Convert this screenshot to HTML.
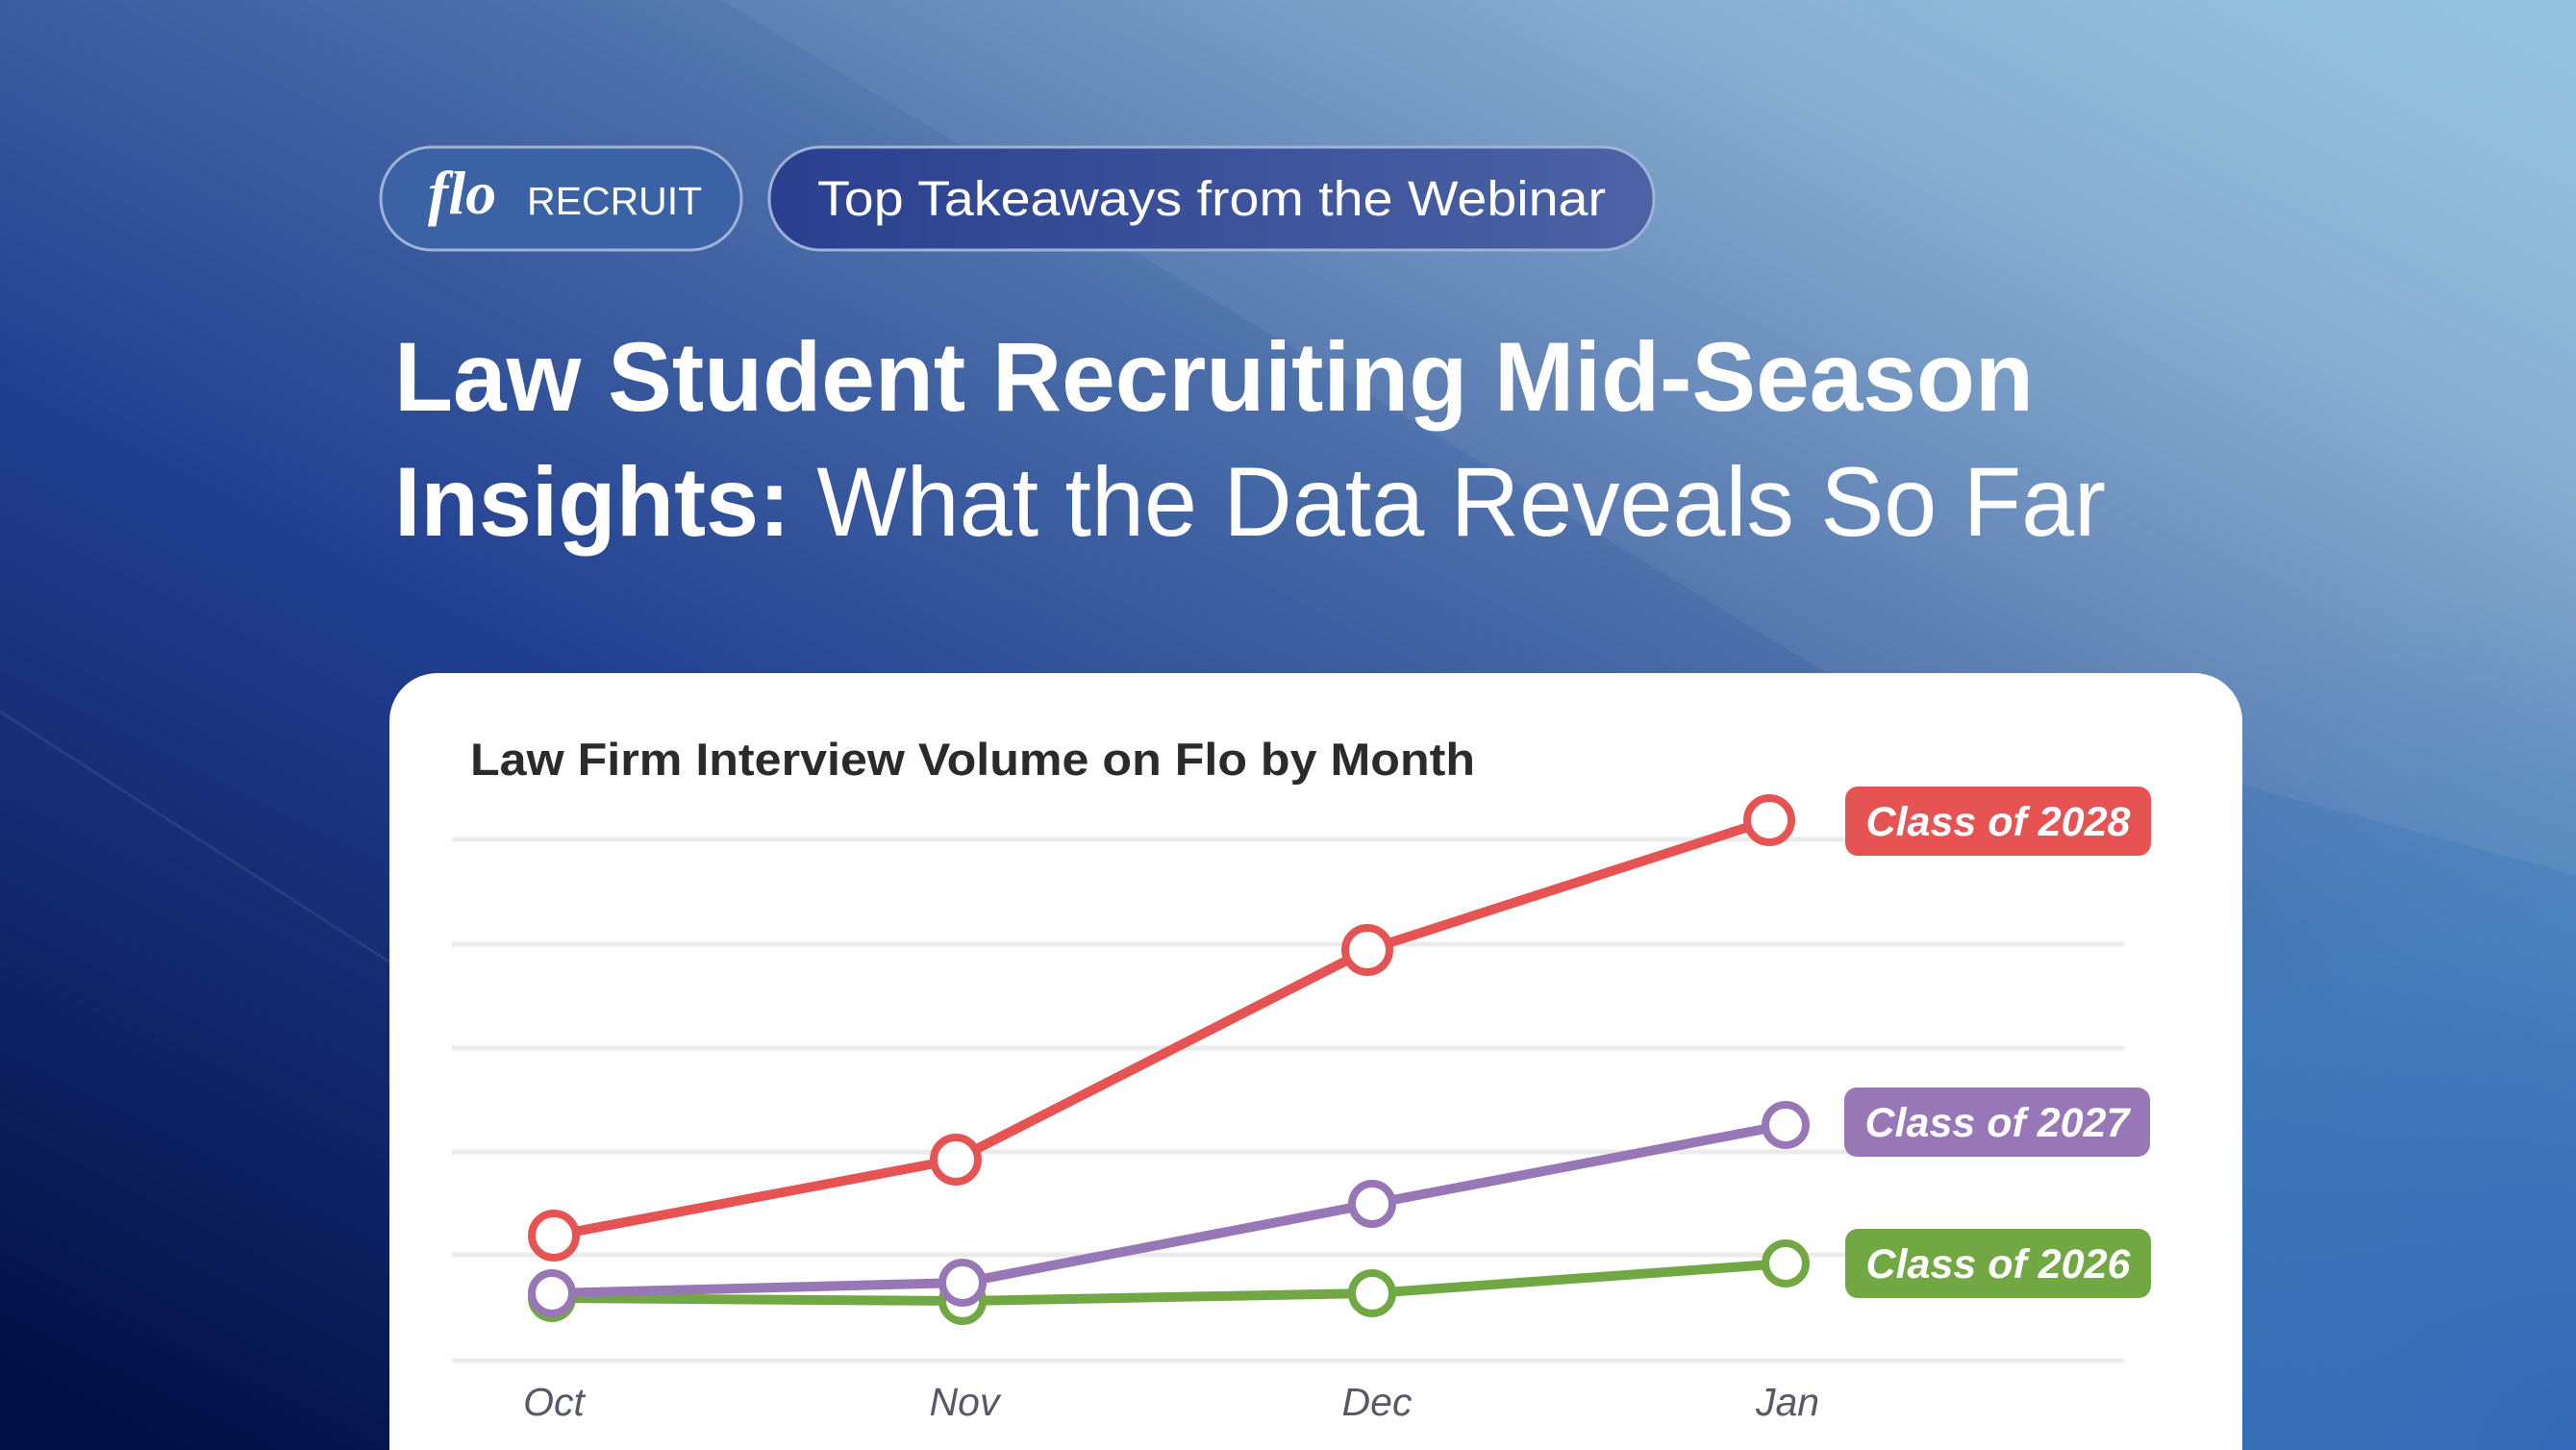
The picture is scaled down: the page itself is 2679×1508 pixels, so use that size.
<!DOCTYPE html>
<html><head><meta charset="utf-8"><style>html,body{margin:0;padding:0;background:#1a3580;overflow:hidden;width:2679px;height:1508px}svg{display:block;overflow:hidden}</style></head>
<body>
<svg width="2679" height="1508" viewBox="0 0 2679 1508" xmlns="http://www.w3.org/2000/svg" font-family="Liberation Sans, sans-serif">
<defs>
<linearGradient id="bg" x1="0.05" y1="1" x2="0.95" y2="0">
<stop offset="0" stop-color="#020f45"/>
<stop offset="0.38" stop-color="#213f90"/>
<stop offset="0.62" stop-color="#4b6ea9"/>
<stop offset="0.85" stop-color="#82abcf"/>
<stop offset="1" stop-color="#8fc0dc"/>
</linearGradient>
<radialGradient id="br" cx="2679" cy="1508" r="900" gradientUnits="userSpaceOnUse">
<stop offset="0" stop-color="#3468b8" stop-opacity="1"/>
<stop offset="0.6" stop-color="#3f86c6" stop-opacity="0.6"/>
<stop offset="1" stop-color="#4a8cc8" stop-opacity="0"/>
</radialGradient>
<linearGradient id="p2" x1="0" y1="0" x2="1" y2="0">
<stop offset="0" stop-color="#2a3f8e"/><stop offset="1" stop-color="#4d63a5"/>
</linearGradient>
</defs>
<rect width="2679" height="1508" fill="url(#bg)"/>
<rect width="2679" height="1508" fill="url(#br)"/>
<path d="M750 0 L1900 700 L2679 910 L2679 0 Z" fill="#ffffff" opacity="0.06"/>
<path d="M0 740 L420 1010" stroke="#ffffff" stroke-opacity="0.08" stroke-width="3"/>
<rect x="396" y="153" width="375" height="107" rx="53" fill="#3c62a6" stroke="#9fb2d8" stroke-width="3"/>
<text x="445" y="222" font-family="Liberation Serif, serif" font-style="italic" font-weight="bold" font-size="64" fill="#fff">flo</text>
<text x="548" y="223" font-size="41" fill="#fff">RECRUIT</text>
<rect x="800" y="153" width="920" height="107" rx="53" fill="url(#p2)" stroke="#9fb2d8" stroke-width="3"/>
<text x="1260" y="224" font-size="51" fill="#fff" text-anchor="middle" textLength="820" lengthAdjust="spacingAndGlyphs">Top Takeaways from the Webinar</text>
<text x="410" y="427" font-size="102" font-weight="bold" fill="#fff" textLength="1705" lengthAdjust="spacingAndGlyphs">Law Student Recruiting Mid-Season</text>
<text x="410" y="557" font-size="102" fill="#fff" textLength="1780" lengthAdjust="spacingAndGlyphs"><tspan font-weight="bold">Insights:</tspan> What the Data Reveals So Far</text>
<path d="M405 1508 L405 750 A50 50 0 0 1 455 700 L2282 700 A50 50 0 0 1 2332 750 L2332 1508 Z" fill="#ffffff"/>
<text x="489" y="806" font-size="47" font-weight="bold" fill="#2b2b2b" textLength="1045" lengthAdjust="spacingAndGlyphs">Law Firm Interview Volume on Flo by Month</text>
<g stroke="#ebebeb" stroke-width="5">
<line x1="470" y1="873" x2="2209" y2="873"/><line x1="470" y1="982" x2="2209" y2="982"/>
<line x1="470" y1="1090" x2="2209" y2="1090"/><line x1="470" y1="1198" x2="2209" y2="1198"/>
<line x1="470" y1="1305" x2="2209" y2="1305"/><line x1="470" y1="1415" x2="2209" y2="1415"/>
</g>
<g font-size="41" font-style="italic" fill="#555a66" text-anchor="middle">
<text x="576" y="1472">Oct</text><text x="1003" y="1472">Nov</text><text x="1432" y="1472">Dec</text><text x="1859" y="1472">Jan</text>
</g>
<g fill="none" stroke-width="10" stroke-linejoin="round">
<polyline points="574,1350 1001,1353 1427,1345 1857,1314" stroke="#72a843"/>
<polyline points="574,1345 1001,1334 1427,1252 1857,1170" stroke="#9777b5"/>
<polyline points="576,1285 994,1206 1422,988 1840,853" stroke="#e55353"/>
</g>
<g fill="#fff" stroke-width="8">
<g stroke="#72a843"><circle cx="574" cy="1350" r="21"/><circle cx="1001" cy="1353" r="21"/><circle cx="1427" cy="1345" r="21"/><circle cx="1857" cy="1314" r="21"/></g>
<g stroke="#9777b5"><circle cx="574" cy="1345" r="21"/><circle cx="1001" cy="1334" r="21"/><circle cx="1427" cy="1252" r="21"/><circle cx="1857" cy="1170" r="21"/></g>
<g stroke="#e55353"><circle cx="576" cy="1285" r="23"/><circle cx="994" cy="1206" r="23"/><circle cx="1422" cy="988" r="23"/><circle cx="1840" cy="853" r="23"/></g>
</g>
<rect x="1919" y="818" width="318" height="72" rx="13" fill="#e55353"/>
<rect x="1918" y="1131" width="318" height="72" rx="13" fill="#9777b5"/>
<rect x="1919" y="1278" width="318" height="72" rx="13" fill="#72a843"/>
<g font-size="43" font-style="italic" font-weight="bold" fill="#fff" text-anchor="middle">
<text x="2078" y="869">Class of 2028</text>
<text x="2077" y="1182">Class of 2027</text>
<text x="2078" y="1329">Class of 2026</text>
</g>
</svg>
</body></html>
